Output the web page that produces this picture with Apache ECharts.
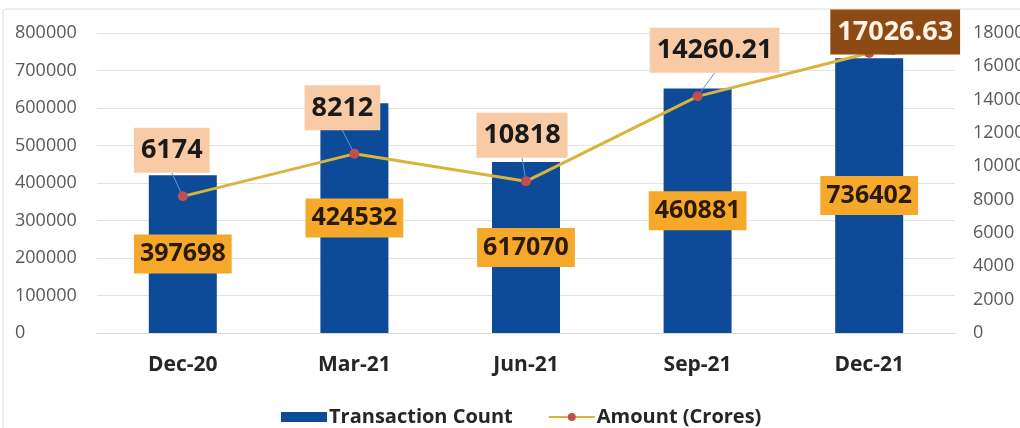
<!DOCTYPE html>
<html><head><meta charset="utf-8">
<script src="https://cdn.jsdelivr.net/npm/echarts@6/dist/echarts.min.js"></script>
<style>html,body{margin:0;padding:0;background:#fff}#c{width:1020px;height:428px}</style>
</head><body><div id="c"></div>
<script>
const categories = ['Dec-20', 'Mar-21', 'Jun-21', 'Sep-21', 'Dec-21'];
const transactionCount = [421000, 613000, 456000, 652000, 733000];
const amountCrores = [8200, 10750, 9100, 14200, 16800];
const countLabels = ['397698', '424532', '617070', '460881', '736402'];
const amountLabels = ['6174', '8212', '10818', '14260.21', '17026.63'];
const leftTicks = [0, 800000, 100000];
const rightTicks = [0, 18000, 2000];

const FONT = '"Open Sans", "Noto Sans", sans-serif';
const lastIdx = amountCrores.length - 1;
const labelShiftX = [-11, -12, -4, 17, 26];
const chart = echarts.init(document.getElementById('c'));
const amountData = amountCrores.map((v, i) => (
  i === lastIdx ? {value: v, label: {backgroundColor: '#8E4A14', color: '#FFF3E3'}} : {value: v}
));
chart.setOption({
  animation: false,
  backgroundColor: '#ffffff',
  graphic: [{type: 'rect', shape: {x: 3, y: 9, width: 1030, height: 440, r: 3}, style: {fill: 'none', stroke: '#dcdcdc', lineWidth: 1}, silent: true}],
  grid: {left: 97, right: 65, top: 33, bottom: 95, containLabel: false, outerBoundsMode: 'none'},
  legend: {
    top: 402, left: 276, itemGap: 35, itemWidth: 46, itemHeight: 10,
    textStyle: {fontFamily: FONT, fontSize: 20, fontWeight: 'bold', color: '#262626', padding: [0, 0, 0, -3]},
    data: [
      {name: 'Transaction Count', icon: 'rect'},
      {name: 'Amount (Crores)'}
    ]
  },
  xAxis: {
    type: 'category', data: categories,
    axisLine: {show: true, lineStyle: {color: '#d9d9d9'}},
    axisTick: {show: false},
    axisLabel: {fontFamily: FONT, fontSize: 21, fontWeight: 'bold', color: '#262626', margin: 22}
  },
  yAxis: [{
    type: 'value', min: leftTicks[0], max: leftTicks[1], interval: leftTicks[2],
    axisLine: {show: false}, axisTick: {show: false},
    splitLine: {lineStyle: {color: '#e3e3e3', width: 1}},
    axisLabel: {fontFamily: FONT, fontSize: 18, color: '#595959', align: 'left', margin: 82, formatter: v => String(v)}
  }, {
    type: 'value', min: rightTicks[0], max: rightTicks[1], interval: rightTicks[2],
    axisLine: {show: false}, axisTick: {show: false}, splitLine: {show: false},
    axisLabel: {fontFamily: FONT, fontSize: 18, color: '#595959', align: 'left', margin: 18, formatter: v => String(v)}
  }],
  series: [{
    name: 'Transaction Count', type: 'bar', data: transactionCount, barWidth: 68,
    itemStyle: {color: '#0D4A98'},
    label: {
      show: true, position: 'inside',
      formatter: p => countLabels[p.dataIndex],
      fontFamily: FONT, fontSize: 25, fontWeight: 'bold', color: '#2a1a08',
      backgroundColor: '#F6A82B', padding: [8, 6, 6, 6]
    }
  }, {
    name: 'Amount (Crores)', type: 'line', yAxisIndex: 1, data: amountData,
    symbol: 'circle', symbolSize: 10, z: 3,
    itemStyle: {color: '#C0504D'},
    lineStyle: {color: '#D8B43C', width: 3},
    label: {
      show: true, position: 'inside',
      formatter: p => amountLabels[p.dataIndex],
      fontFamily: FONT, fontSize: 27, fontWeight: 'bold', color: '#1a1a1a',
      backgroundColor: '#F8CBA6', padding: [10, 7, 8, 7]
    },
    labelLayout: p => ({dx: labelShiftX[p.dataIndex], dy: p.dataIndex === lastIdx ? -21 : -46}),
    labelLine: {show: true, lineStyle: {color: '#5B9BD5', width: 1}}
  }]
});
</script></body></html>
